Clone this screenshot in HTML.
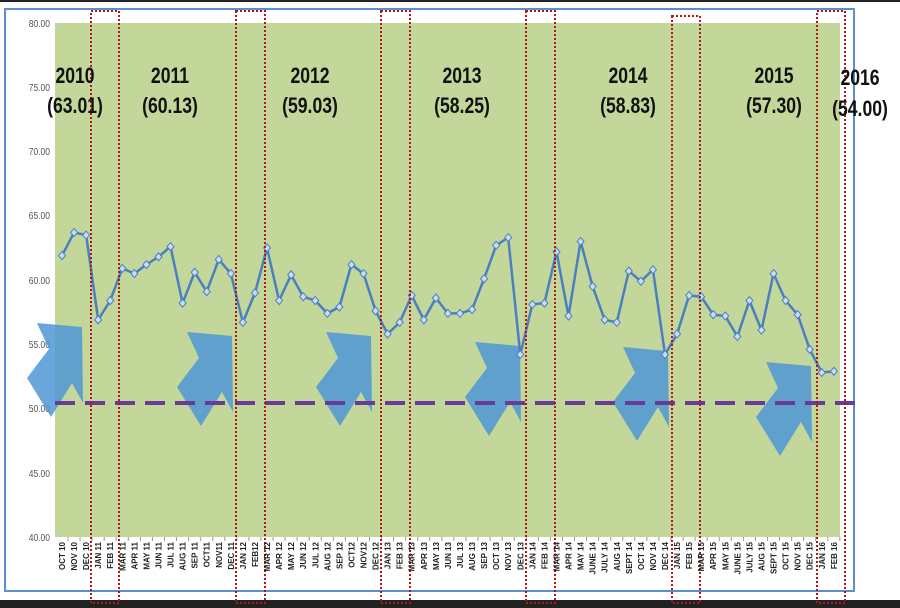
<!DOCTYPE html>
<html><head><meta charset="utf-8"><style>
html,body{margin:0;padding:0;background:#fff;}
svg{display:block;font-family:"Liberation Sans",sans-serif;}
</style></head><body>
<svg width="900" height="608" viewBox="0 0 900 608" xmlns="http://www.w3.org/2000/svg">
<rect x="0" y="0" width="900" height="608" fill="#fff"/>
<rect x="0" y="0" width="900" height="2" fill="#222"/>
<rect x="0" y="600" width="900" height="8" fill="#222"/>
<rect x="5" y="9" width="849" height="582" fill="none" stroke="#5b8dd0" stroke-width="2"/>
<rect x="55" y="23" width="785" height="514" fill="#c4d79b"/>
<g font-size="10" fill="#555" text-anchor="end" transform="scale(0.85,1)">
<text x="58.8" y="27">80.00</text><text x="58.8" y="91">75.00</text><text x="58.8" y="155">70.00</text>
<text x="58.8" y="219">65.00</text><text x="58.8" y="284">60.00</text><text x="58.8" y="348">55.00</text>
<text x="58.8" y="412">50.00</text><text x="58.8" y="477">45.00</text><text x="58.8" y="541">40.00</text>
</g>
<g id="arrows" fill="#4f97d6" fill-opacity="0.85">
<polygon points="0,0 45,4 46,80 35,60 14,94 -10,55 12,26" transform="translate(37,323)"/>
<polygon points="0,0 45,4 46,80 35,60 14,94 -10,55 12,26" transform="translate(187,332)"/>
<polygon points="0,0 45,4 46,80 35,60 14,94 -10,55 12,26" transform="translate(326,332)"/>
<polygon points="0,0 45,4 46,80 35,60 14,94 -10,55 12,26" transform="translate(475,342)"/>
<polygon points="0,0 45,4 46,80 35,60 14,94 -10,55 12,26" transform="translate(623,347)"/>
<polygon points="0,0 45,4 46,80 35,60 14,94 -10,55 12,26" transform="translate(766,362)"/>
</g>
<line x1="55" y1="403" x2="862" y2="403" stroke="#6a3a9a" stroke-width="4" stroke-dasharray="20,10"/>
<g id="series"></g>
<g fill="none" stroke="#b01818" stroke-width="2" stroke-dasharray="2,2">
<rect x="91" y="11" width="28" height="592"/>
<rect x="236" y="11" width="29" height="592"/>
<rect x="381" y="11" width="29" height="592"/>
<rect x="526" y="11" width="29" height="592"/>
<rect x="672" y="16" width="28" height="587"/>
<rect x="817" y="11" width="28" height="592"/>
</g>
<g font-size="22" font-weight="bold" fill="#111" text-anchor="middle">
<g transform="translate(75,0) scale(0.8,1)"><text x="0" y="83">2010</text><text x="0" y="113">(63.01)</text></g>
<g transform="translate(170,0) scale(0.8,1)"><text x="0" y="83">2011</text><text x="0" y="113">(60.13)</text></g>
<g transform="translate(310,0) scale(0.8,1)"><text x="0" y="83">2012</text><text x="0" y="113">(59.03)</text></g>
<g transform="translate(462,0) scale(0.8,1)"><text x="0" y="83">2013</text><text x="0" y="113">(58.25)</text></g>
<g transform="translate(628,0) scale(0.8,1)"><text x="0" y="83">2014</text><text x="0" y="113">(58.83)</text></g>
<g transform="translate(774,0) scale(0.8,1)"><text x="0" y="83">2015</text><text x="0" y="113">(57.30)</text></g>
<g transform="translate(860,0) scale(0.8,1)"><text x="0" y="85">2016</text><text x="0" y="116">(54.00)</text></g>
</g>
<g id="labels" font-size="8" font-weight="bold" fill="#222" text-anchor="end"></g>
</svg>
<script>
var v=[61.9,63.7,63.5,56.9,58.4,60.9,60.5,61.2,61.8,62.6,58.2,60.6,59.1,61.6,60.5,56.7,59.0,62.5,58.4,60.4,58.7,58.4,57.4,57.9,61.2,60.5,57.6,55.8,56.7,58.8,56.9,58.6,57.4,57.4,57.7,60.1,62.7,63.3,54.2,58.1,58.2,62.2,57.2,63.0,59.5,56.9,56.7,60.7,59.9,60.8,54.2,55.8,58.8,58.7,57.3,57.2,55.6,58.4,56.1,60.5,58.4,57.3,54.6,52.8,52.9];
var L=["OCT 10","NOV 10","DEC 10","JAN 11","FEB 11","MAR 11","APR 11","MAY 11","JUN 11","JUL 11","AUG 11","SEP 11","OCT11","NOV11","DEC 11","JAN 12","FEB12","MAR 12","APR 12","MAY 12","JUN 12","JUL 12","AUG 12","SEP 12","OCT12","NOV12","DEC 12","JAN 13","FEB 13","MAR 13","APR 13","MAY 13","JUN 13","JUL 13","AUG 13","SEP 13","OCT 13","NOV 13","DEC 13","JAN 14","FEB 14","MAR 14","APR 14","MAY 14","JUNE 14","JULY 14","AUG 14","SEPT 14","OCT 14","NOV 14","DEC 14","JAN 15","FEB 15","MAR 15","APR 15","MAY 15","JUNE 15","JULY 15","AUG 15","SEPT 15","OCT 15","NOV 15","DEC 15","JAN 16","FEB 16"];
var NS="http://www.w3.org/2000/svg",s=document.getElementById("series"),lb=document.getElementById("labels");
var pts=[];
for(var i=0;i<v.length;i++){var x=62+i*12.06,y=537-(v[i]-40)*12.85;pts.push(x.toFixed(1)+","+y.toFixed(1));}
var pl=document.createElementNS(NS,"polyline");pl.setAttribute("points",pts.join(" "));pl.setAttribute("fill","none");pl.setAttribute("stroke","#4a7fc0");pl.setAttribute("stroke-width","2.5");s.appendChild(pl);
for(var i=0;i<v.length;i++){var x=62+i*12.06,y=537-(v[i]-40)*12.85;
var d=document.createElementNS(NS,"polygon");d.setAttribute("points",x+","+(y-4)+" "+(x+3.5)+","+y+" "+x+","+(y+4)+" "+(x-3.5)+","+y);d.setAttribute("fill","#c9dcf2");d.setAttribute("stroke","#4a7fc0");d.setAttribute("stroke-width","1");s.appendChild(d);
var t=document.createElementNS(NS,"text");t.setAttribute("transform","translate("+(x+3)+",542) rotate(-90)");t.textContent=L[i];lb.appendChild(t);
var tk=document.createElementNS(NS,"line");tk.setAttribute("x1",x+6);tk.setAttribute("x2",x+6);tk.setAttribute("y1",537);tk.setAttribute("y2",541);tk.setAttribute("stroke","#999");s.appendChild(tk);}
</script>
</body></html>
